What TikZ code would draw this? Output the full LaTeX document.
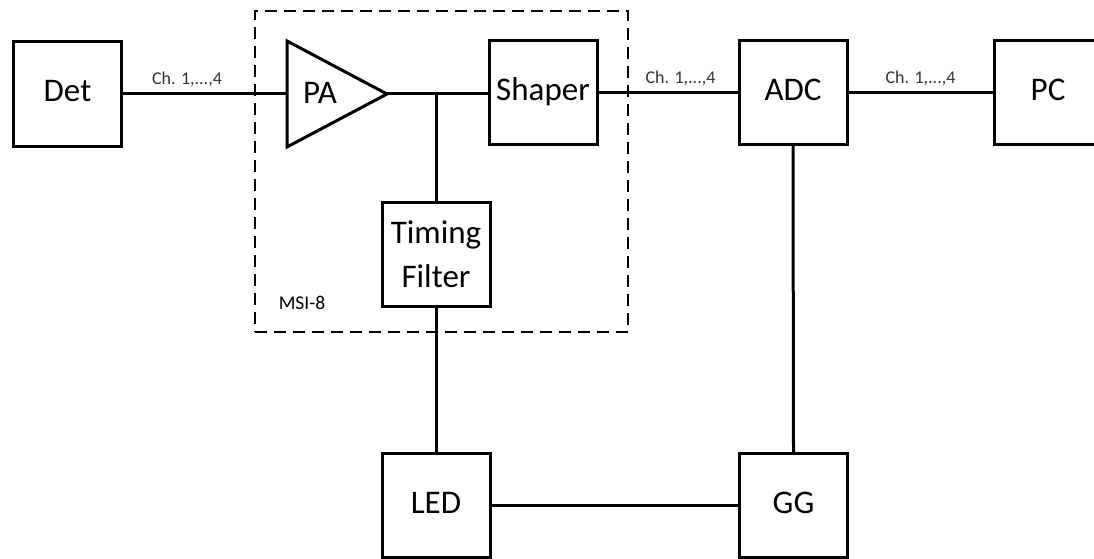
\documentclass[tikz,border=0pt]{standalone}
\usepackage{fontspec}
\setmainfont{Carlito}
\usepackage{tikz}
\usetikzlibrary{positioning,calc}

\begin{document}
\begin{tikzpicture}[x=1pt,y=-1pt,
  font=\fontsize{33}{44}\selectfont,
  blk/.style={draw,line width=3pt,minimum width=108pt,minimum height=104pt,
              inner sep=0pt,align=center},
  oneline/.style={blk,text height=23pt,text depth=7pt},
  wire/.style={line width=3pt},
  chlab/.style={font=\fontsize{18}{20}\selectfont,text=black!80},
  group/.style={draw,line width=2.5pt,dash pattern=on 12pt off 7pt,
                minimum width=373pt,minimum height=321pt,inner sep=0pt}]
  \clip (0,0) rectangle (1094,559);
  % dashed MSI-8 module
  \node[group] (msi) at (441.5,171.5) {};
  \node[font=\fontsize{19.5}{22}\selectfont] (msilab) at (302,303) {MSI-8};
  % blocks
  \node[oneline] (det) at (67.5,94) {Det};
  \draw[line width=3pt,line join=miter] (287,41) -- (387,94) -- (287,147) -- cycle;
  \coordinate (pain) at (287,94);
  \coordinate (paout) at (387,94);
  \node (pa) at (320,93) {PA};
  \node[oneline] (shaper) at (543,92.5) {Shaper};
  \node[oneline] (adc) at (793,92.5) {ADC};
  \node[oneline] (pc) at (1048,92.5) {PC};
  \node[blk] (timing) at (436,254.5) {Timing\\Filter};
  \node[oneline] (led) at (436,505.5) {LED};
  \node[oneline] (gg) at (793.5,505.5) {GG};
  \coordinate (tap) at (timing.north |- paout);
  % signal lines
  \draw[wire] (det.east |- pain) -- (pain)
       node[chlab,pos=0.39,above=2pt] (ch1) {Ch. 1,...,4};
  \draw[wire] (paout) -- (shaper.west |- paout);
  \draw[wire] (tap) -- (timing.north);
  \draw[wire] (shaper.east) -- (adc.west)
       node[chlab,pos=0.59,above=2pt] (ch2) {Ch. 1,...,4};
  \draw[wire] (adc.east) -- (pc.west)
       node[chlab,pos=0.5,above=2pt] (ch3) {Ch. 1,...,4};
  \draw[wire] (timing.south) -- (led.north);
  \draw[wire] (led.east) -- (gg.west);
  \draw[wire] (adc.south) -- (gg.north);
\end{tikzpicture}
\end{document}
